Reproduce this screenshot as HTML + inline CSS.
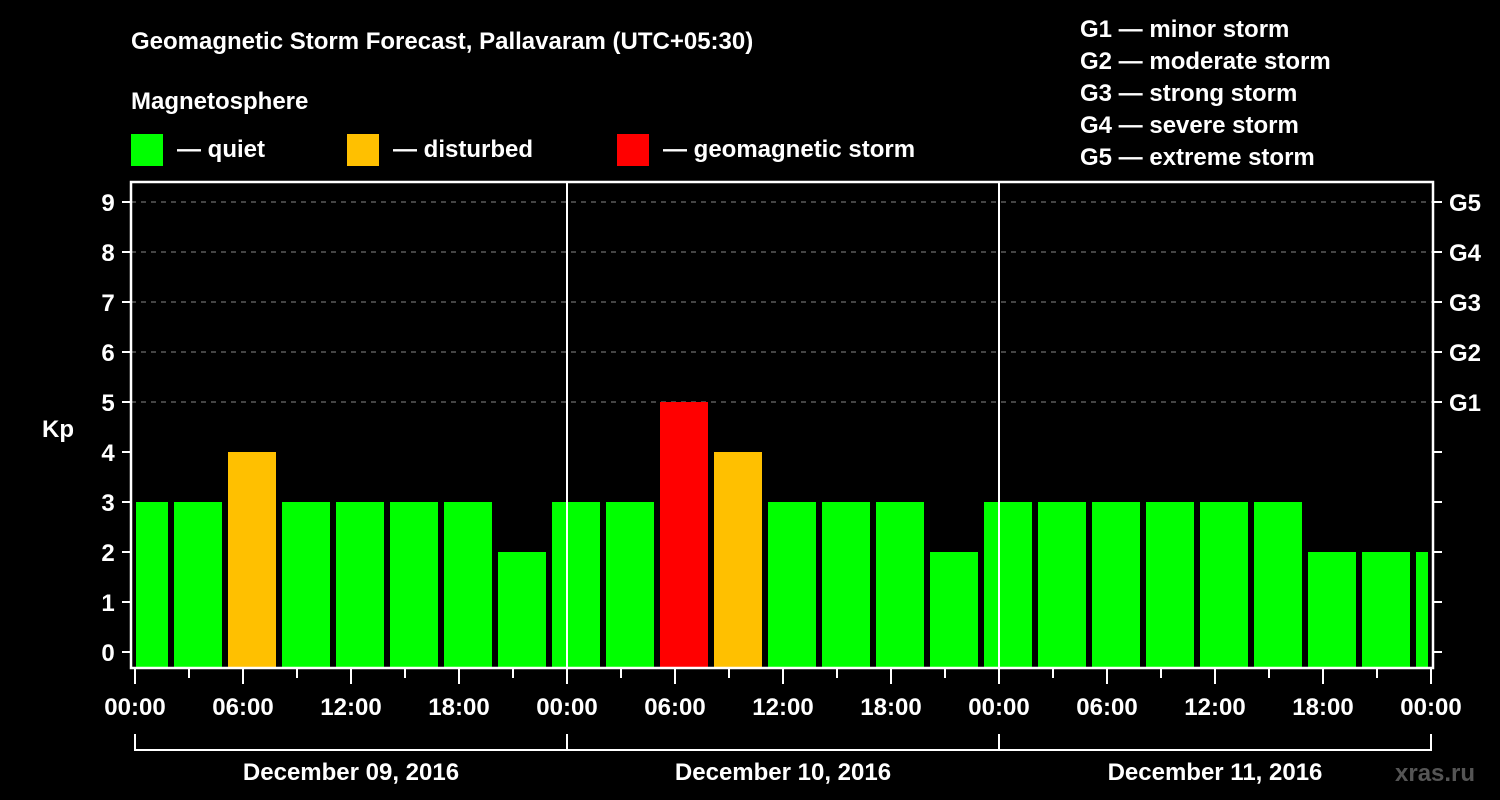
<!DOCTYPE html>
<html><head><meta charset="utf-8"><style>
html,body{margin:0;padding:0;background:#000;}
svg{display:block;font-family:"Liberation Sans",Arial,sans-serif;font-weight:bold;}
</style></head><body>
<svg id="chart" width="1500" height="800" viewBox="0 0 1500 800">
<rect x="0" y="0" width="1500" height="800" fill="#000"/>
<text x="131" y="49" fill="#fff" font-size="24">Geomagnetic Storm Forecast, Pallavaram (UTC+05:30)</text>
<text x="131" y="109" fill="#fff" font-size="24">Magnetosphere</text>
<g><rect x="131" y="134" width="32" height="32" fill="#00ff00"/><text x="177" y="157" fill="#fff" font-size="24">— quiet</text></g>
<g><rect x="347" y="134" width="32" height="32" fill="#ffc000"/><text x="393" y="157" fill="#fff" font-size="24">— disturbed</text></g>
<g><rect x="617" y="134" width="32" height="32" fill="#ff0000"/><text x="663" y="157" fill="#fff" font-size="24">— geomagnetic storm</text></g>
<g fill="#fff" font-size="24">
<text x="1080" y="37">G1 — minor storm</text>
<text x="1080" y="69">G2 — moderate storm</text>
<text x="1080" y="101">G3 — strong storm</text>
<text x="1080" y="133">G4 — severe storm</text>
<text x="1080" y="165">G5 — extreme storm</text>
</g>
<g id="plot"></g>
<text x="1395" y="781" fill="#555" font-size="24">xras.ru</text>
</svg>
<script>
const values=[3,3,4,3,3,3,3,2,3,3,5,4,3,3,3,2,3,3,3,3,3,3,2,2,2];
const yTicks=[0,1,2,3,4,5,6,7,8,9];
const gLabels=["G1","G2","G3","G4","G5"];
const gLevels=[5,6,7,8,9];
const xLabels=["00:00","06:00","12:00","18:00","00:00","06:00","12:00","18:00","00:00","06:00","12:00","18:00","00:00"];
const dayLabels=["December 09, 2016","December 10, 2016","December 11, 2016"];

const NS="http://www.w3.org/2000/svg";
const g=document.getElementById('plot');
const L=131,R=1433,T=182,B=668,X0=135,PXH=18;
const y=v=>652-v*50;
const x=h=>X0+h*PXH;
function mk(tag,attrs,parent){const e=document.createElementNS(NS,tag);for(const k in attrs)e.setAttribute(k,attrs[k]);(parent||g).appendChild(e);return e;}

// grid
gLevels.forEach((v,i)=>{
 const l=mk('line',{x1:L,x2:R,y1:y(v),y2:y(v),stroke:'#888','stroke-width':1,'stroke-dasharray':'5,5'});
 
 
});
// bars
values.forEach((v,k)=>{
 const c=x(3*k+0.5);
 let x0=Math.max(c-24,136),x1=Math.min(c+24,1428);
 const col=v>=5?'#ff0000':(v>=4?'#ffc000':'#00ff00');
 const r=mk('rect',{x:x0,y:y(v),width:x1-x0,height:B-y(v),fill:col});
 
 
});
// day separators
[1,2].forEach(d=>{
 const l=mk('line',{x1:x(24*d),x2:x(24*d),y1:T,y2:B,stroke:'#fff','stroke-width':2});
 
 
});
// frame
const fr=mk('rect',{x:L,y:T,width:R-L,height:B-T,fill:'none',stroke:'#fff','stroke-width':2.5});


// y ticks
yTicks.forEach(v=>{
 mk('line',{x1:122,x2:L,y1:y(v),y2:y(v),stroke:'#fff','stroke-width':2});
 mk('line',{x1:R,x2:1442,y1:y(v),y2:y(v),stroke:'#fff','stroke-width':2});
 const t=mk('text',{x:108,y:y(v)+9,fill:'#fff','font-size':24,'text-anchor':'middle'});
 t.textContent=v;
 
 
});
gLevels.forEach((v,i)=>{
 const t=mk('text',{x:1449,y:y(v)+9,fill:'#fff','font-size':24});
 t.textContent=gLabels[i];
 
 
});
const kp=mk('text',{x:42,y:437,fill:'#fff','font-size':24});
kp.textContent='Kp';


// x ticks
for(let h=0;h<=72;h+=3){
 const major=h%6===0;
 mk('line',{x1:x(h),x2:x(h),y1:B,y2:major?684:678,stroke:'#fff','stroke-width':2});
}
xLabels.forEach((s,i)=>{
 const t=mk('text',{x:x(6*i),y:715,fill:'#fff','font-size':24,'text-anchor':'middle'});
 t.textContent=s;
 
 
});
// day brackets
dayLabels.forEach((s,d)=>{
 const a=x(24*d),b=x(24*(d+1));
 mk('path',{d:`M${a},734 V750 H${b} V734`,fill:'none',stroke:'#fff','stroke-width':2});
 const t=mk('text',{x:(a+b)/2,y:780,fill:'#fff','font-size':24,'text-anchor':'middle'});
 t.textContent=s;
 
 
});
</script>
</body></html>
